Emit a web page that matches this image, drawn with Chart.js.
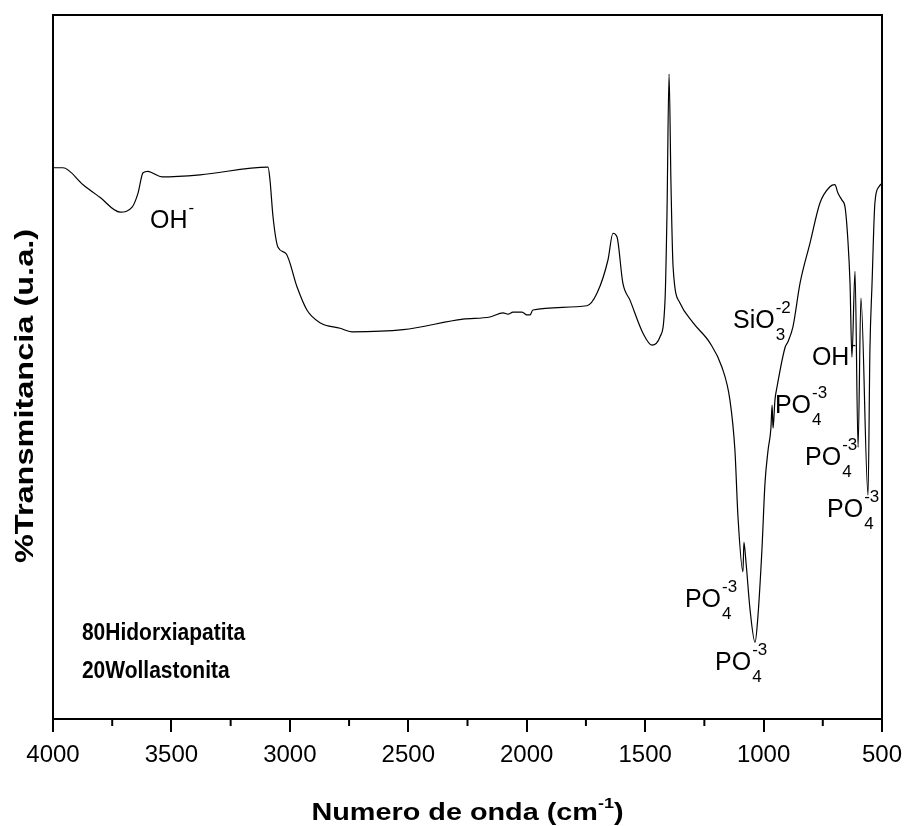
<!DOCTYPE html>
<html>
<head>
<meta charset="utf-8">
<script src="https://cdn.jsdelivr.net/npm/chart.js@4.4.1/dist/chart.umd.min.js"></script>
<style>
  html, body { margin: 0; padding: 0; background: #fff; }
</style>
</head>
<body>
<canvas id="myChart" width="905" height="826"></canvas>
<script>
// FTIR spectrum, 80 Hidroxiapatita / 20 Wollastonita
// wavenumbers (cm-1) and transmittance (arbitrary units)
const wavenumber = [
  4000, 3958, 3873, 3802, 3717, 3666, 3641, 3620, 3599, 3582, 3540, 3379, 3092, 3084,
  3071, 3050, 3016, 2970, 2928, 2873, 2788, 2738, 2522, 2269, 2155, 2100, 2079, 2058,
  2020, 1999, 1986, 1974, 1746, 1703, 1657, 1636, 1619, 1594, 1564, 1509, 1471, 1437,
  1416, 1408, 1399, 1391, 1382, 1353, 1298, 1226, 1176, 1142, 1121, 1108, 1087, 1083,
  1074, 1057, 1036, 1024, 1007, 994, 981, 969, 964, 960, 952, 943, 909, 897, 876, 846,
  804, 762, 720, 699, 686, 669, 656, 644, 635, 627, 614, 601, 589, 559, 551, 542, 530,
  513, 500
];
const transmitancia = [
  78.3, 78.3, 75.9, 74.1, 72.0, 72.7, 74.7, 77.6, 77.8, 77.6, 77.0, 77.3, 78.4, 76.6,
  71.3, 67.0, 66.1, 61.4, 58.1, 56.3, 55.5, 55.0, 55.3, 56.8, 57.1, 57.7, 57.5, 57.8,
  57.8, 57.4, 57.4, 58.1, 58.7, 60.5, 65.2, 69.0, 68.5, 61.9, 59.5, 54.8, 53.1, 54.3,
  59.5, 71.3, 91.6, 76.1, 64.2, 59.1, 56.3, 53.4, 50.0, 45.3, 38.2, 28.7, 20.9, 25.1,
  22.2, 15.5, 10.9, 14.5, 24.0, 33.5, 38.2, 41.3, 44.6, 41.3, 45.3, 47.2, 52.8, 53.6,
  55.7, 61.9, 67.6, 73.3, 75.6, 75.9, 74.7, 73.7, 72.7, 68.0, 61.9, 51.4, 63.6, 38.6,
  59.8, 31.8, 52.4, 61.9, 73.3, 75.6, 76.1
];

// x axis ticks
const majorTicks = [4000, 3500, 3000, 2500, 2000, 1500, 1000, 500];
const minorTicks = [3750, 3250, 2750, 2250, 1750, 1250, 750];

// band labels: text, subscript, superscript, anchor (cm-1, transmittance)
const bandText = ["OH", "SiO", "OH", "PO", "PO", "PO", "PO", "PO"];
const bandSub  = ["", "3", "", "4", "4", "4", "4", "4"];
const bandSup  = ["-", "-2", "-", "-3", "-3", "-3", "-3", "-3"];
const bandX    = [3590, 1129, 796, 952, 825, 732, 1332, 1205];
const bandY    = [69.7, 55.5, 50.3, 43.5, 36.1, 28.7, 15.9, 7.0];

// sample name
const sampleText = ["80Hidorxiapatita", "20Wollastonita"];
const sampleX = [3878, 3878];
const sampleY = [11.2, 5.8];

const FONT = "'Liberation Sans', Arial, Helvetica, sans-serif";

function drawText(ctx, txt, x, y, size, bold, sx, sy) {
  ctx.save();
  ctx.translate(x, y);
  ctx.scale(sx, sy);
  ctx.font = (bold ? "bold " : "") + size + "px " + FONT;
  ctx.textAlign = "left";
  ctx.textBaseline = "alphabetic";
  ctx.fillText(txt, 0, 0);
  const w = ctx.measureText(txt).width * sx;
  ctx.restore();
  return w;
}

function textWidth(ctx, txt, size, bold) {
  ctx.save();
  ctx.font = (bold ? "bold " : "") + size + "px " + FONT;
  const w = ctx.measureText(txt).width;
  ctx.restore();
  return w;
}

// frame, minor ticks, labels and axis titles
const decorations = {
  id: "decorations",
  afterDraw(chart) {
    const ctx = chart.ctx;
    const area = chart.chartArea;
    const xs = chart.scales.x;
    const ys = chart.scales.y;
    ctx.save();
    ctx.fillStyle = "#000";
    ctx.strokeStyle = "#000";

    // frame
    ctx.lineWidth = 2;
    ctx.strokeRect(area.left, area.top, area.right - area.left, area.bottom - area.top);

    // minor ticks
    for (let i = 0; i < minorTicks.length; i++) {
      const px = xs.getPixelForValue(minorTicks[i]);
      ctx.beginPath();
      ctx.moveTo(px, area.bottom);
      ctx.lineTo(px, area.bottom + 7);
      ctx.stroke();
    }

    // band labels
    for (let i = 0; i < bandText.length; i++) {
      const px = xs.getPixelForValue(bandX[i]);
      const py = ys.getPixelForValue(bandY[i]);
      const w = drawText(ctx, bandText[i], px, py, 25, false, 1, 1);
      if (bandSub[i]) drawText(ctx, bandSub[i], px + w + 1, py + 12, 17, false, 1, 1);
      if (bandSup[i]) drawText(ctx, bandSup[i], px + w + 1, py - 15, 17, false, 1, 1);
    }

    // sample name
    for (let i = 0; i < sampleText.length; i++) {
      drawText(ctx, sampleText[i], xs.getPixelForValue(sampleX[i]),
        ys.getPixelForValue(sampleY[i]), 21, true, 1, 1.12);
    }

    // x title with superscript
    const sx = 1.2;
    const part1 = "Numero de onda (cm";
    const w1 = textWidth(ctx, part1, 24, true) * sx;
    const w2 = textWidth(ctx, "-1", 15, true) * sx;
    const w3 = textWidth(ctx, ")", 24, true) * sx;
    let tx = (area.left + area.right) / 2 - (w1 + w2 + w3) / 2;
    drawText(ctx, part1, tx, 820, 24, true, sx, 1);
    drawText(ctx, "-1", tx + w1, 808, 15, true, sx, 1);
    drawText(ctx, ")", tx + w1 + w2, 820, 24, true, sx, 1);

    // y title
    ctx.save();
    ctx.translate(26, 396);
    ctx.rotate(-Math.PI / 2);
    ctx.scale(1.25, 1);
    ctx.font = "bold 26px " + FONT;
    ctx.textAlign = "center";
    ctx.textBaseline = "middle";
    ctx.fillText("%Transmitancia (u.a.)", 0, 0);
    ctx.restore();

    ctx.restore();
  }
};

const points = wavenumber.map((v, i) => ({ x: v, y: transmitancia[i] }));

const config = {
  type: "line",
  data: {
    datasets: [
      {
        label: "80Hidorxiapatita 20Wollastonita",
        data: points,
        borderColor: "#000",
        borderWidth: 1.2,
        pointRadius: 0,
        fill: false,
        cubicInterpolationMode: "monotone",
      },
    ],
  },
  options: {
    responsive: false,
    animation: false,
    layout: { padding: { left: 53, right: 23, top: 15, bottom: 0 } },
    plugins: {
      legend: { display: false },
      tooltip: { enabled: false },
    },
    scales: {
      x: {
        type: "linear",
        reverse: true,
        min: 500,
        max: 4000,
        afterFit: (scale) => {
          scale.height = 107;
          scale.paddingLeft = 0;
          scale.paddingRight = 0;
        },
        afterBuildTicks: (scale) => {
          scale.ticks = majorTicks.map((v) => ({ value: v }));
        },
        grid: {
          drawOnChartArea: false,
          drawTicks: true,
          tickLength: 13,
          lineWidth: 2,
          color: "#000",
        },
        border: { display: true, color: "#000", width: 2 },
        ticks: {
          padding: 9,
          color: "#000",
          maxRotation: 0,
          autoSkip: false,
          font: { family: FONT, size: 24 },
          callback: (v) => String(v),
        },
      },
      y: {
        display: false,
        min: 0,
        max: 100,
      },
    },
  },
  plugins: [decorations],
};

const myChart = new Chart(document.getElementById("myChart"), config);
</script>
</body>
</html>
